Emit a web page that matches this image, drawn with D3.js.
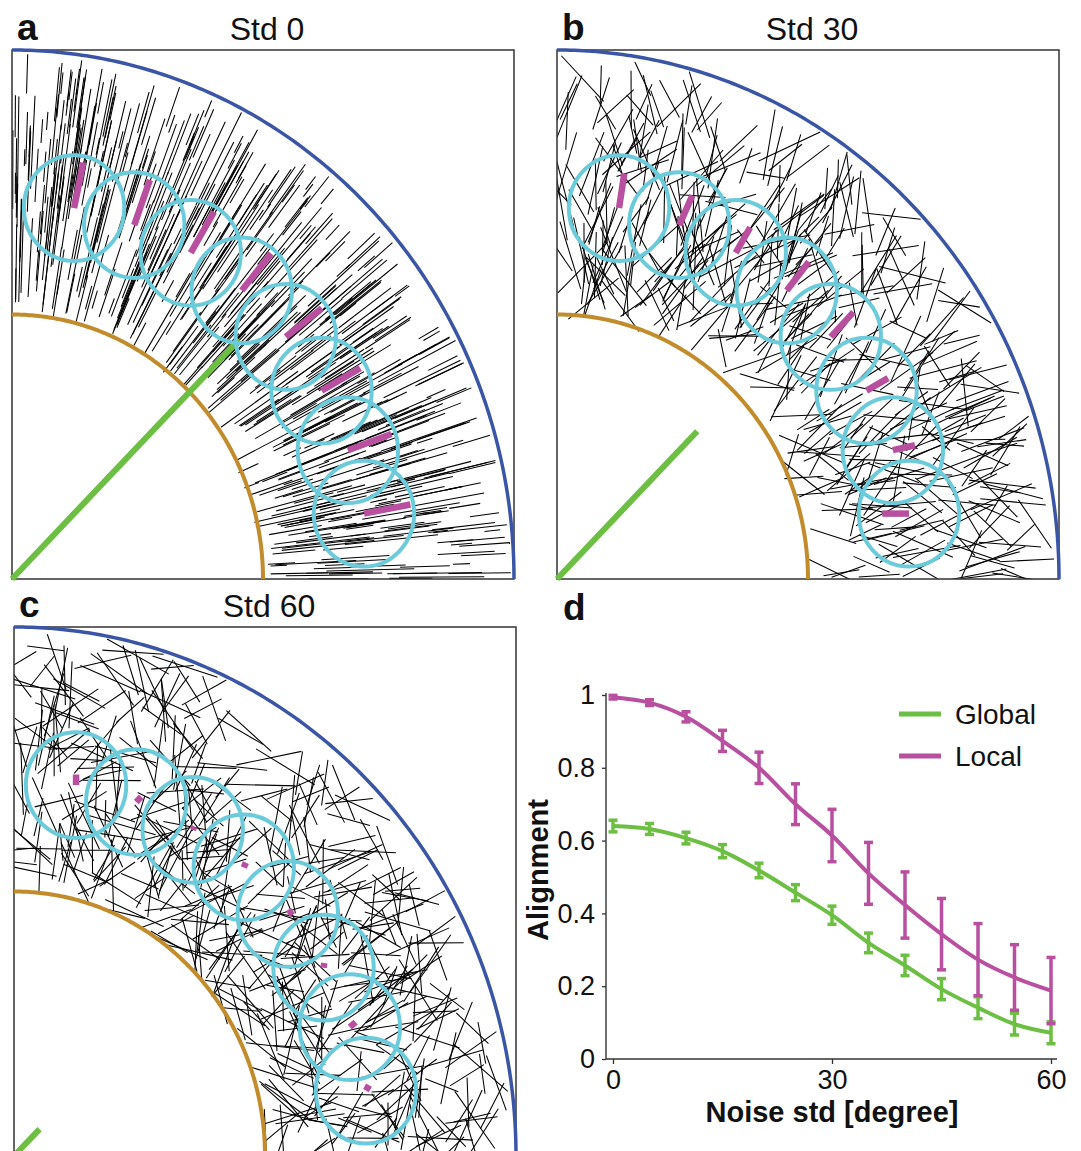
<!DOCTYPE html>
<html>
<head>
<meta charset="utf-8">
<script src="https://cdn.jsdelivr.net/npm/d3@7"></script>
<style>
  body { margin: 0; background: #fff; }
  svg { display: block; }
  text { font-family: "Liberation Sans", Arial, sans-serif; fill: #111; }
</style>
</head>
<body>
<svg id="fig" width="1081" height="1151"></svg>
<script>
// ---- Panel d: alignment vs noise std ----
const noiseStd   = [0, 5, 10, 15, 20, 25, 30, 35, 40, 45, 50, 55, 60];
const localMean  = [0.994, 0.979, 0.94, 0.874, 0.80, 0.70, 0.614, 0.51, 0.423, 0.343, 0.273, 0.224, 0.188];
const localErr   = [0.005, 0.008, 0.014, 0.029, 0.043, 0.056, 0.072, 0.085, 0.091, 0.098, 0.099, 0.09, 0.091];
const globalMean = [0.64, 0.632, 0.607, 0.571, 0.518, 0.457, 0.395, 0.319, 0.257, 0.192, 0.141, 0.096, 0.072];
const globalErr  = [0.016, 0.015, 0.016, 0.018, 0.02, 0.022, 0.025, 0.027, 0.028, 0.029, 0.03, 0.03, 0.03];
const xTicks = [0, 30, 60];
const yTicks = [0, 0.2, 0.4, 0.6, 0.8, 1];
const seriesNames = ["Global", "Local"];

// ---- Panels a-c: fibre fields ----
const panelLetters = ["a", "b", "c"];
const panelTitles  = ["Std 0", "Std 30", "Std 60"];
const panelNoise   = [0, 30, 60];
// local windows (angle in degrees along the ring)
const windowAngles = [80, 70, 60, 50, 40, 30, 20, 10];
// local mean orientation (deg) and local alignment (bar length, in window radii)
const barAngleA = [78, 70, 59, 50, 37, 29, 19.5, 10.5];
const barLenA   = [0.88, 0.91, 0.9, 0.91, 0.9, 0.88, 0.92, 0.94];
const barAngleB = [81, 65, 59, 51, 46, 29, 12, 180];
const barLenB   = [0.66, 0.62, 0.56, 0.7, 0.65, 0.49, 0.45, 0.53];
const barAngleC = [90, 45, 60, 65, 30, 80, 40, 60];
const barLenC   = [0.2, 0.14, 0.07, 0.1, 0.12, 0.09, 0.15, 0.12];

const colors = {
    blue: '#3a55a6',
    ochre: '#c28b2c',
    green: '#6cbf42',
    magenta: '#b94f9f',
    cyan: '#6ccbdb'
};

const svg = d3.select('#fig');
svg.append('rect').attr('width', 1081).attr('height', 1151).attr('fill', '#fff');

const W = 502, H = 529;
const boxes = [{x: 12, y: 50}, {x: 557, y: 50}, {x: 14, y: 627}];
const bars = [[barAngleA, barLenA], [barAngleB, barLenB], [barAngleC, barLenC]];
const fiberCount = [580, 480, 520];
const fiberLen = [[0.03, 0.2], [0.07, 0.14], [0.07, 0.14]];

// seeded generator, only used for the schematic fibre texture
function rng(seed) {
    return function() {
        seed |= 0; seed = seed + 0x6D2B79F5 | 0;
        let t = Math.imul(seed ^ seed >>> 15, 1 | seed);
        t = t + Math.imul(t ^ t >>> 7, 61 | t) ^ t;
        return ((t ^ t >>> 14) >>> 0) / 4294967296;
    };
}

function makeFibers(noise, n, lens, seed) {
    const rand = rng(seed);
    const out = [];
    let tries = 0;
    while (out.length < n && tries < n * 30) {
        tries++;
        const r = Math.sqrt(0.25 + 0.75 * rand());
        const th = rand() * Math.PI / 2;
        const z = Math.sqrt(-2 * Math.log(rand() + 1e-9)) * Math.cos(2 * Math.PI * rand());
        const phi = th + z * noise * Math.PI / 180;
        const len = lens[0] + (lens[1] - lens[0]) * rand();
        const cx = r * Math.cos(th), cy = r * Math.sin(th);
        const dx = len / 2 * Math.cos(phi), dy = len / 2 * Math.sin(phi);
        const f = {x1: cx - dx, y1: cy - dy, x2: cx + dx, y2: cy + dy};
        const r1 = Math.hypot(f.x1, f.y1), r2 = Math.hypot(f.x2, f.y2);
        if (Math.max(r1, r2) > 0.995 || Math.min(r1, r2) < 0.49) continue;
        out.push(f);
    }
    return out;
}

function drawPanel(i) {
    const box = boxes[i];
    const sx = d3.scaleLinear([0, 1], [box.x, box.x + W]);
    const sy = d3.scaleLinear([0, 1], [box.y + H, box.y]);
    const g = svg.append('g');

    g.append('clipPath').attr('id', 'clip' + i)
        .append('rect').attr('x', box.x).attr('y', box.y).attr('width', W).attr('height', H);

    // fibres
    const fibers = makeFibers(panelNoise[i], fiberCount[i], fiberLen[i], 11 + i * 97);
    g.append('g').attr('clip-path', `url(#clip${i})`)
        .selectAll('line').data(fibers).join('line')
        .attr('x1', d => sx(d.x1)).attr('y1', d => sy(d.y1))
        .attr('x2', d => sx(d.x2)).attr('y2', d => sy(d.y2))
        .attr('stroke', '#000').attr('stroke-width', 1.05);

    // frame
    g.append('rect').attr('x', box.x).attr('y', box.y).attr('width', W).attr('height', H)
        .attr('fill', 'none').attr('stroke', '#333').attr('stroke-width', 1.5);

    // inner and outer boundaries
    const arcPts = d3.range(0, 90.5, 0.5).map(a => a * Math.PI / 180);
    const arc = r => d3.line().x(t => sx(r * Math.cos(t))).y(t => sy(r * Math.sin(t)))(arcPts);
    g.append('path').attr('d', arc(0.5)).attr('fill', 'none')
        .attr('stroke', colors.ochre).attr('stroke-width', 4);
    g.append('path').attr('d', arc(1)).attr('fill', 'none')
        .attr('stroke', colors.blue).attr('stroke-width', 3.5);

    // global alignment vector
    const gl = globalMean[noiseStd.indexOf(panelNoise[i])];
    g.append('line')
        .attr('x1', sx(0)).attr('y1', sy(0))
        .attr('x2', sx(gl * Math.SQRT1_2)).attr('y2', sy(gl * Math.SQRT1_2))
        .attr('stroke', colors.green).attr('stroke-width', 6);

    // local windows
    const ringR = 0.712, winR = 0.1;
    const centers = windowAngles.map(a => ({
        x: ringR * Math.cos(a * Math.PI / 180),
        y: ringR * Math.sin(a * Math.PI / 180)
    }));
    g.selectAll('ellipse.win').data(centers).join('ellipse')
        .attr('class', 'win')
        .attr('cx', d => sx(d.x)).attr('cy', d => sy(d.y))
        .attr('rx', sx(winR) - sx(0)).attr('ry', sy(0) - sy(winR))
        .attr('fill', 'none').attr('stroke', colors.cyan).attr('stroke-width', 4);

    const [angs, lens] = bars[i];
    g.selectAll('line.bar').data(centers).join('line')
        .attr('class', 'bar')
        .attr('x1', d => sx(d.x)).attr('y1', d => sy(d.y))
        .attr('x2', (d, k) => sx(d.x + lens[k] * winR * Math.cos(angs[k] * Math.PI / 180)))
        .attr('y2', (d, k) => sy(d.y + lens[k] * winR * Math.sin(angs[k] * Math.PI / 180)))
        .attr('stroke', colors.magenta).attr('stroke-width', 6.5);

    // letter and title
    svg.append('text').attr('x', box.x + 5).attr('y', box.y - 10)
        .attr('font-size', 37).attr('font-weight', 'bold').text(panelLetters[i]);
    svg.append('text').attr('x', box.x + 255).attr('y', box.y - 10)
        .attr('font-size', 32).attr('text-anchor', 'middle').text(panelTitles[i]);
}

[0, 1, 2].forEach(drawPanel);

// ---- Panel d ----
const x = d3.scaleLinear([0, 60], [613, 1051]);
const y = d3.scaleLinear([0, 1], [1059, 695]);
const axisX0 = 606;

svg.append('text').attr('x', 563).attr('y', 620)
    .attr('font-size', 37).attr('font-weight', 'bold').text('d');

const yAxis = svg.append('g').attr('transform', `translate(${axisX0},0)`)
    .call(d3.axisLeft(y).tickValues(yTicks).tickSize(4).tickPadding(7)
        .tickFormat(d => (d === 0 || d === 1) ? String(d) : d3.format('.1f')(d)));
const xAxis = svg.append('g').attr('transform', 'translate(0,1059)')
    .call(d3.axisBottom(x).tickValues(xTicks).tickSize(5).tickPadding(6));
[yAxis, xAxis].forEach(a => {
    a.select('.domain').remove();
    a.selectAll('line').attr('stroke', '#333').attr('stroke-width', 1.3);
    a.selectAll('text').attr('font-size', 27).attr('font-family', '"Liberation Sans", Arial, sans-serif').attr('fill', '#111');
});
svg.append('line').attr('x1', axisX0).attr('x2', axisX0).attr('y1', 693).attr('y2', 1059)
    .attr('stroke', '#333').attr('stroke-width', 1.4);
svg.append('line').attr('x1', axisX0).attr('x2', 1057).attr('y1', 1059).attr('y2', 1059)
    .attr('stroke', '#333').attr('stroke-width', 1.4);

svg.append('text').attr('transform', 'translate(548,870) rotate(-90)')
    .attr('text-anchor', 'middle').attr('font-size', 29).attr('font-weight', 'bold')
    .text('Alignment');
svg.append('text').attr('x', 832).attr('y', 1122)
    .attr('text-anchor', 'middle').attr('font-size', 29).attr('font-weight', 'bold')
    .text('Noise std [degree]');

const series = [
    {name: seriesNames[0], mean: globalMean, err: globalErr, color: colors.green},
    {name: seriesNames[1], mean: localMean, err: localErr, color: colors.magenta}
];
const line = d3.line().x((d, k) => x(noiseStd[k])).y(d => y(d)).curve(d3.curveMonotoneX);

series.forEach(s => {
    const g = svg.append('g');
    g.append('path').attr('d', line(s.mean)).attr('fill', 'none')
        .attr('stroke', s.color).attr('stroke-width', 4);
    const pts = s.mean.map((m, k) => ({x: noiseStd[k], lo: m - s.err[k], hi: m + s.err[k]}));
    g.selectAll('line.eb').data(pts).join('line').attr('class', 'eb')
        .attr('x1', d => x(d.x)).attr('x2', d => x(d.x))
        .attr('y1', d => y(d.lo)).attr('y2', d => y(d.hi))
        .attr('stroke', s.color).attr('stroke-width', 3.5);
    ['lo', 'hi'].forEach(key => {
        g.selectAll('line.cap-' + key).data(pts).join('line').attr('class', 'cap-' + key)
            .attr('x1', d => x(d.x) - 4.5).attr('x2', d => x(d.x) + 4.5)
            .attr('y1', d => y(d[key])).attr('y2', d => y(d[key]))
            .attr('stroke', s.color).attr('stroke-width', 3.5);
    });
});

// legend
const legend = svg.append('g');
series.forEach((s, k) => {
    const ly = 714 + k * 42;
    legend.append('line').attr('x1', 899).attr('x2', 941).attr('y1', ly).attr('y2', ly)
        .attr('stroke', s.color).attr('stroke-width', 5);
    legend.append('text').attr('x', 955).attr('y', ly + 10)
        .attr('font-size', 28).text(s.name);
});
</script>
</body>
</html>
